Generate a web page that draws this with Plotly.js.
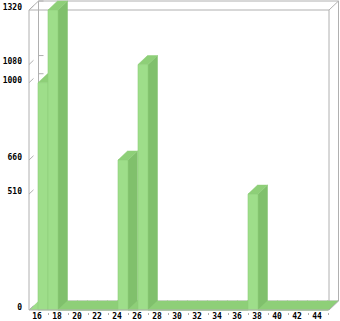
<!DOCTYPE html>
<html><head><meta charset="utf-8">
<script src="https://cdn.plot.ly/plotly-3.0.1.min.js"></script>
<style>html,body{margin:0;padding:0;background:#fff;overflow:hidden}</style>
</head><body><div id="chart" style="width:340px;height:321px"></div>
<script>
// ---- data ----
const categories = [16,17,18,19,20,21,22,23,24,25,26,27,28,29,30,31,32,33,34,35,36,37,38,39,40,41,42,43,44];
const values     = [1000,1320,0,0,0,0,0,0,660,0,1080,0,0,0,0,0,0,0,0,0,0,510,0,0,0,0,0,0,0];
const yTickValues = [0,510,660,1000,1080,1320];
const yTickLabels = ['0','510','660','1000','1080','1320'];
const xTickValues = [16,18,20,22,24,26,28,30,32,34,36,38,40,42,44];
const xTickLabels = ['16','18','20','22','24','26','28','30','32','34','36','38','40','42','44'];
const xMinorTicks = [17,19,21,23,25,27,29,31,33,35,37,39,41,43,45];

// ---- 3D geometry (depth offset in axis units) ----
const DX = 0.95, DY = 39.6;
const X0 = 15.1, X1 = 45.1, YTOP = 1320;
const XR = [15.0, 46.2], YR = [-8.8, 1364];

const FRONT = '#9ede8a', SIDE = '#80c06c', TOP = '#8ecf78', GRID = '#b0b0b0';

const sideX = [], sideY = [], topX = [], topY = [];
categories.forEach((c, i) => {
  const h = values[i];
  sideX.push(c + 1, c + 1, c + 1 + DX, c + 1 + DX, c + 1, null);
  sideY.push(0, h, h + DY, DY, 0, null);
  topX.push(c, c + 1, c + 1 + DX, c + DX, c, null);
  topY.push(h, h, h + DY, h + DY, h, null);
});

const traces = [
  {type:'scatter', mode:'lines', x:sideX, y:sideY, fill:'toself', fillcolor:SIDE,
   line:{color:SIDE, width:0.5}, hoverinfo:'skip', xaxis:'x', yaxis:'y'},
  {type:'scatter', mode:'lines', x:topX, y:topY, fill:'toself', fillcolor:TOP,
   line:{color:TOP, width:0.5}, hoverinfo:'skip', xaxis:'x', yaxis:'y'},
  {type:'bar', x:categories.map(c => c + 0.5), y:values, width:1,
   marker:{color:FRONT, line:{color:'#8fcf7b', width:0.6}},
   hoverinfo:'skip', xaxis:'x2', yaxis:'y2'}
];

function seg(x0, y0, x1, y1, layer) {
  return {type:'line', xref:'x', yref:'y', x0, y0, x1, y1, layer:layer || 'below',
          line:{color:GRID, width:1}};
}
const shapes = [
  // back wall
  seg(X0 + DX, DY, X0 + DX, YTOP + DY),
  seg(X0 + DX, YTOP + DY, X1 + DX, YTOP + DY),
  seg(X1 + DX, DY, X1 + DX, YTOP + DY),
  seg(X0 + DX, DY, X1 + DX, DY),
  // floor plane
  {type:'path', xref:'x', yref:'y', layer:'below',
   path:`M${X0},0 L${X1},0 L${X1 + DX},${DY} L${X0 + DX},${DY} Z`,
   fillcolor:FRONT, line:{width:0}},
  // front frame
  seg(X0, 0, X0, YTOP),
  seg(X0, YTOP, X1, YTOP),
  seg(X1, 0, X1, YTOP),
  // depth edges
  seg(X0, YTOP, X0 + DX, YTOP + DY),
  seg(X1, YTOP, X1 + DX, YTOP + DY),
  seg(X1, 0, X1 + DX, DY, 'above'),
  seg(X0, 0, X1, 0, 'above')
];
// y tick marks: diagonal on the front edge and short one on the back wall
yTickValues.forEach(v => {
  shapes.push(seg(X0, v, X0 + 0.45, v + DY * 0.45 / DX));
  shapes.push(seg(X0 + DX, v + DY, X0 + DX + 0.5, v + DY));
});

const tickFont = {family:'DejaVu Sans Mono', size:8, color:'#000', weight:'bold'};
const layout = {
  width:340, height:321, margin:{l:28, r:0, t:0, b:9, pad:0},
  paper_bgcolor:'#ffffff', plot_bgcolor:'#ffffff', showlegend:false,
  bargap:0,
  xaxis:{range:XR, tickmode:'array', tickvals:xTickValues, ticktext:xTickLabels,
         ticks:'', showgrid:false, zeroline:false, showline:false, fixedrange:true,
         tickfont:tickFont, ticklabelstandoff:-2, ticklabelshift:-1,
         minor:{tickmode:'array', tickvals:xMinorTicks, ticks:'outside', ticklen:2,
                tickcolor:GRID, tickwidth:1, showgrid:false}},
  yaxis:{range:YR, tickmode:'array', tickvals:yTickValues, ticktext:yTickLabels,
         ticks:'', showgrid:false, zeroline:false, showline:false, fixedrange:true,
         tickfont:tickFont, ticklabelstandoff:5, ticklabelshift:-3},
  xaxis2:{overlaying:'x', anchor:'y2', range:XR, visible:false, fixedrange:true},
  yaxis2:{overlaying:'y', anchor:'x2', range:YR, visible:false, fixedrange:true},
  shapes:shapes
};
Plotly.newPlot('chart', traces, layout, {staticPlot:true, displayModeBar:false});
</script>
</body></html>
